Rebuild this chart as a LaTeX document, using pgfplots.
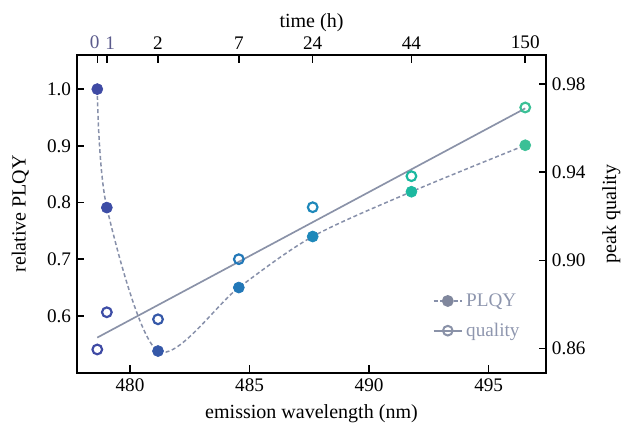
\documentclass[border=0pt]{standalone}
\usepackage{fontspec}
\setmainfont{Liberation Serif}
\usepackage{pgfplots}
\pgfplotsset{compat=1.18}

\definecolor{c1}{HTML}{3F4AA4}
\definecolor{c2}{HTML}{3D4DA6}
\definecolor{c3}{HTML}{3558A8}
\definecolor{c4}{HTML}{2278B8}
\definecolor{c5}{HTML}{1E88BA}
\definecolor{c6}{HTML}{1CB9A0}
\definecolor{c7}{HTML}{3BC096}
\definecolor{fitc}{HTML}{8A92A8}
\definecolor{dashc}{HTML}{8790AA}
\definecolor{legc}{HTML}{8E96AE}
\definecolor{topc}{HTML}{5B5B8C}

% emission wavelength (nm), relative PLQY, peak quality, time class
\pgfplotstableread{
wl      plqy   qual    cls
478.63  1.000  0.8595  a
479.03  0.791  0.8764  b
481.17  0.538  0.8732  c
484.55  0.650  0.9005  d
487.64  0.740  0.9241  e
491.77  0.819  0.9382  f
496.53  0.901  0.9694  g
}\datatab

\pgfplotsset{
  base/.style={
    scale only axis, width=281pt, height=190.2pt,
    xmin=477.78, xmax=497.4,
    tick align=inside,
    major tick length=4.5pt,
    every tick/.style={black, line width=0.9pt},
    axis line style={line width=1.2pt},
    tick label style={font=\fontsize{11.5}{13}\selectfont},
    label style={font=\fontsize{12}{14}\selectfont},
    /pgf/number format/assume math mode=true,
  },
}

\begin{document}
\begin{tikzpicture}
\begin{axis}[
  base,
  ymin=0.5, ymax=1.06,
  xtick={480,485,490,495},
  ytick={0.6,0.7,0.8,0.9,1.0},
  xtick pos=bottom, ytick pos=left,
  yticklabel style={/pgf/number format/.cd, fixed, fixed zerofill, precision=1},
  xlabel={emission wavelength (nm)},
  ylabel={relative PLQY},
  xlabel style={at={(axis description cs:0.5,-0.13)}, anchor=center},
  ylabel style={at={(axis description cs:-0.121,0.5)}, anchor=center, rotate=0},
]
\addplot[dashc, line width=0.9pt, dash pattern=on 2.4pt off 1.6pt, smooth, tension=0.5] table[x=wl, y=plqy] {\datatab};
\addplot[only marks, scatter, scatter src=explicit symbolic,
  scatter/classes={
    a={mark=*, draw=c1, fill=c1},
    b={mark=*, draw=c2, fill=c2},
    c={mark=*, draw=c3, fill=c3},
    d={mark=*, draw=c4, fill=c4},
    e={mark=*, draw=c5, fill=c5},
    f={mark=*, draw=c6, fill=c6},
    g={mark=*, draw=c7, fill=c7}},
  mark size=3.3pt] table[x=wl, y=plqy, meta=cls] {\datatab};
\coordinate (SW) at (rel axis cs:0,0);
\coordinate (NE) at (rel axis cs:1,1);
\end{axis}

\begin{axis}[
  base,
  ymin=0.849, ymax=0.9932,
  axis x line*=top, axis y line*=right,
  xtick={478.63,479.03,481.17,484.55,487.64,491.77,496.53},
  xticklabels={\textcolor{topc}{0\kern3pt},\textcolor{topc}{\kern4pt 1},2,7,24,44,150},
  ytick={0.86,0.90,0.94,0.98},
  yticklabel style={/pgf/number format/.cd, fixed, fixed zerofill, precision=2},
  xlabel={time (h)},
  ylabel={peak quality},
  xlabel style={at={(axis description cs:0.5,1.102)}, anchor=center},
  ylabel style={at={(axis description cs:1.139,0.5)}, anchor=center},
  legend style={draw=none, fill=none, at={(0.962,0.085)}, anchor=south east,
    font=\fontsize{11.5}{13}\selectfont\color{legc}, row sep=4.5pt},
  legend cell align=left,
]
\addlegendimage{dashc, line width=0.9pt, dash pattern=on 2.4pt off 1.6pt, mark=*, mark size=3.1pt, mark options={solid, fill=legc!90!black, draw=legc!90!black}}
\addlegendentry{PLQY}
\addlegendimage{fitc, line width=1pt, mark=o, mark size=2.9pt, mark options={solid, fill=white, draw=fitc, line width=1.2pt}}
\addlegendentry{quality}
\addplot[fitc, line width=1pt, forget plot] coordinates {(478.63,0.8649) (496.53,0.9690)};
\addplot[only marks, scatter, scatter src=explicit symbolic,
  scatter/classes={
    a={mark=o, draw=c1},
    b={mark=o, draw=c2},
    c={mark=o, draw=c3},
    d={mark=o, draw=c4},
    e={mark=o, draw=c5},
    f={mark=o, draw=c6},
    g={mark=o, draw=c7}},
  mark options={fill=white, line width=1.3pt},
  mark size=2.9pt, forget plot] table[x=wl, y=qual, meta=cls] {\datatab};
\end{axis}
\pgfresetboundingbox
\path ([xshift=-46.1pt,yshift=-32.7pt]SW) rectangle ([xshift=45.5pt,yshift=33pt]NE);
\end{tikzpicture}
\end{document}
